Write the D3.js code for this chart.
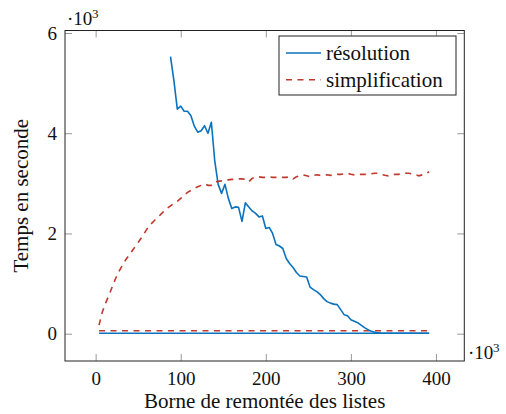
<!DOCTYPE html>
<html><head><meta charset="utf-8"><script src="https://cdn.jsdelivr.net/npm/d3@7/dist/d3.min.js"></script></head>
<body style="margin:0">
<svg id="chart" width="506" height="414"></svg>
<script>
// ---- data (x in 10^3, y in 10^3 seconds) ----
const xValues = [4,8,12,16,20,24,28,32,36,40,44,48,52,56,60,64,68,72,76,80,84,88,92,96,100,104,108,112,116,120,124,128,132,136,140,144,148,152,156,160,164,168,172,176,180,184,188,192,196,200,204,208,212,216,220,224,228,232,236,240,244,248,252,256,260,264,268,272,276,280,284,288,292,296,300,304,308,312,316,320,324,328,332,336,340,344,348,352,356,360,364,368,372,376,380,384,388,392];

const resolution = [null,null,null,null,null,null,null,null,null,null,null,null,null,null,null,null,null,null,null,null,null,
  5.53,5.05,4.48,4.54,4.44,4.44,4.35,4.14,4.02,4.05,
  4.15,4.00,4.22,3.45,2.98,2.80,2.98,2.70,2.50,2.53,
  2.52,2.24,2.61,2.53,2.45,2.40,2.33,2.35,2.10,2.12,
  2.00,1.78,1.75,1.70,1.50,1.40,1.32,1.22,1.15,1.14,
  1.13,0.93,0.88,0.84,0.78,0.70,0.64,0.61,0.59,0.58,
  0.48,0.38,0.36,0.28,0.25,0.22,0.17,0.12,0.08,0.05,
  0.03,0.02,
  0.01,0.01,0.01,0.01,0.01,0.01,0.01,0.01,0.01,0.01,0.01,0.01,0.01,0.01,0.01];

const simplification = [
  0.17,0.44,0.62,0.78,0.96,1.12,1.26,1.38,1.49,1.58,
  1.68,1.77,1.87,1.97,2.08,2.17,2.24,2.31,2.37,2.44,
  2.50,2.55,2.60,2.64,2.70,2.76,2.82,2.86,2.90,2.93,
  2.96,2.99,2.96,2.96,3.03,3.04,3.05,3.06,3.07,3.08,
  3.08,3.09,3.09,3.08,3.03,3.10,3.13,3.13,3.12,3.12,
  3.13,3.12,3.12,3.13,3.12,3.12,3.13,3.09,3.13,3.15,
  3.17,3.15,3.13,3.16,3.17,3.16,3.17,3.17,3.16,3.17,
  3.18,3.18,3.19,3.20,3.18,3.17,3.17,3.18,3.18,3.18,
  3.19,3.20,3.20,3.18,3.16,3.15,3.17,3.18,3.18,3.19,
  3.20,3.20,3.19,3.17,3.15,3.17,3.20,3.23];

// flat companion curves (start and end of range)
const baselineX = [4, 392];
const resolutionBaseline = [0.01, 0.01];
const simplificationBaseline = [0.06, 0.06];

const xTicks = [0, 100, 200, 300, 400];
const yTicks = [0, 2, 4, 6];
const seriesNames = ["résolution", "simplification"];
const xLabel = "Borne de remontée des listes";
const yLabel = "Temps en seconde";

// ---- layout ----
const L = 65, R = 464.3, T = 30.5, B = 361;
const FS = 21;      // labels / legend
const TFS = 19;     // tick labels
const FONT = "Liberation Serif";
const blue = "#0b72bd", red = "#c0392b";

const svg = d3.select("#chart");
const x = d3.scaleLinear().domain([-36, 433.3]).range([L, R]);
const y = d3.scaleLinear().domain([-0.545, 6.05]).range([B, T]);

const line = d3.line()
  .defined(d => d[1] !== null)
  .x(d => x(d[0])).y(d => y(d[1]));

// ticks (inside, all four sides)
const tickLen = 7;
const tickColor = "#999";
const axisDefs = [
  [d3.axisBottom(x).tickValues(xTicks).tickPadding(11).tickFormat(d3.format("d")), `translate(0,${B})`],
  [d3.axisTop(x).tickValues(xTicks).tickFormat(""), `translate(0,${T})`],
  [d3.axisLeft(y).tickValues(yTicks).tickPadding(8).tickFormat(d3.format("d")), `translate(${L},0)`],
  [d3.axisRight(y).tickValues(yTicks).tickFormat(""), `translate(${R},0)`]
];
axisDefs.forEach(([ax, tr]) => {
  const g = svg.append("g").attr("transform", tr).call(ax.tickSize(-tickLen));
  g.select(".domain").remove();
  g.selectAll(".tick line").attr("stroke", tickColor).attr("stroke-width", 1);
  g.selectAll(".tick text").attr("fill", "#111").attr("font-family", FONT).attr("font-size", TFS);
});

// frame
svg.append("rect").attr("x", L).attr("y", T).attr("width", R - L).attr("height", B - T)
  .attr("fill", "none").attr("stroke", "#222").attr("stroke-width", 1);

// series
const resPts = xValues.map((v, i) => [v, resolution[i]]);
const simPts = xValues.map((v, i) => [v, simplification[i]]);
const resBase = baselineX.map((v, i) => [v, resolutionBaseline[i]]);
const simBase = baselineX.map((v, i) => [v, simplificationBaseline[i]]);

const dash = "6,5.5";
svg.append("path").datum(resBase).attr("d", line).attr("fill", "none")
  .attr("stroke", blue).attr("stroke-width", 1.6);
svg.append("path").datum(simBase).attr("d", line).attr("fill", "none")
  .attr("stroke", red).attr("stroke-width", 1.6).attr("stroke-dasharray", dash);
svg.append("path").datum(resPts).attr("d", line).attr("fill", "none")
  .attr("stroke", blue).attr("stroke-width", 1.6).attr("stroke-linejoin", "round");
svg.append("path").datum(simPts).attr("d", line).attr("fill", "none")
  .attr("stroke", red).attr("stroke-width", 1.6).attr("stroke-dasharray", dash);

// multipliers
function mult(xx, yy) {
  svg.append("text").attr("x", xx).attr("y", yy).attr("font-size", TFS)
    .attr("font-family", FONT).attr("fill", "#111").text("·10");
  svg.append("text").attr("x", xx + 25).attr("y", yy - 7).attr("font-size", 13)
    .attr("font-family", FONT).attr("fill", "#111").text("3");
}
mult(67, 25);
mult(468, 359);

// axis labels
svg.append("text").attr("x", (L + R) / 2).attr("y", 408).attr("text-anchor", "middle")
  .attr("font-size", FS).attr("font-family", FONT).attr("fill", "#111").text(xLabel);
svg.append("text").attr("transform", `translate(28,${(T + B) / 2}) rotate(-90)`)
  .attr("text-anchor", "middle").attr("font-size", FS).attr("font-family", FONT)
  .attr("fill", "#111").text(yLabel);

// legend
svg.append("rect").attr("x", 279).attr("y", 36).attr("width", 177).attr("height", 59)
  .attr("fill", "#fff").attr("stroke", "#222").attr("stroke-width", 1);
const colors = [blue, red];
seriesNames.forEach((name, i) => {
  const yy = 53 + i * 26.7;
  svg.append("line").attr("x1", 286).attr("x2", 321).attr("y1", yy).attr("y2", yy)
    .attr("stroke", colors[i]).attr("stroke-width", 1.6)
    .attr("stroke-dasharray", i === 1 ? dash : null);
  svg.append("text").attr("x", 326).attr("y", yy + 7)
    .attr("font-size", FS).attr("font-family", FONT).attr("fill", "#111").text(name);
});
</script>
</body>
</html>
